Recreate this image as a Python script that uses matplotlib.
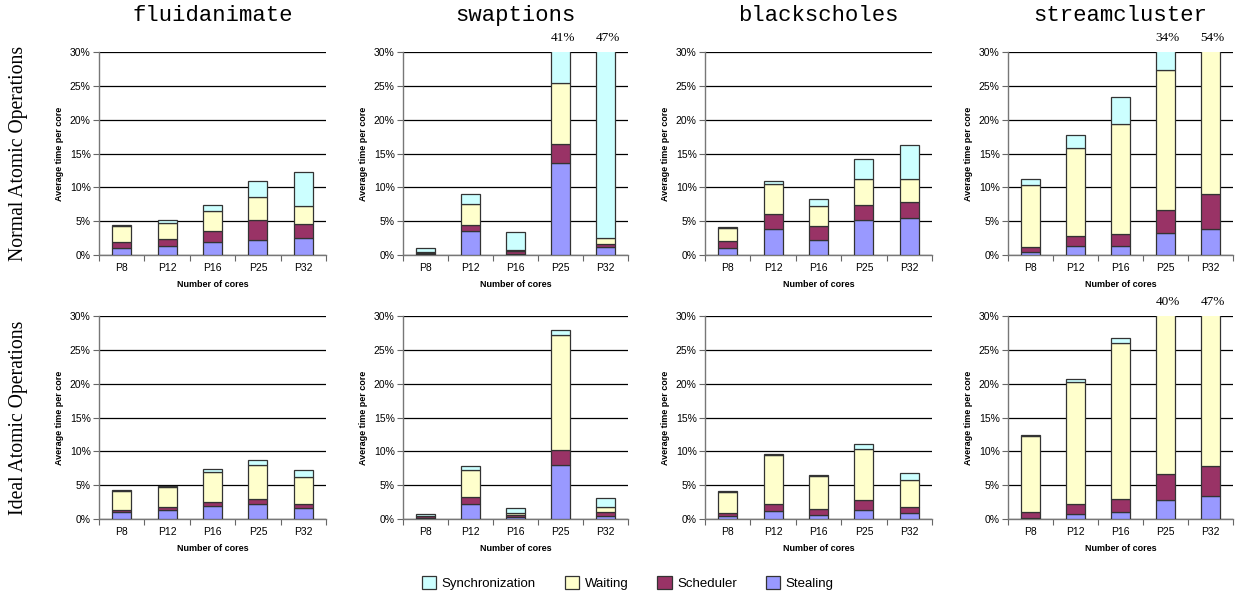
import matplotlib
matplotlib.use("Agg")
import matplotlib.pyplot as plt
from matplotlib.patches import Patch

# Per-core time breakdown (% of run time), bottom to top: stealing, scheduler, waiting, synchronization
cores = ["P8", "P12", "P16", "P25", "P32"]
benchmarks = ["fluidanimate", "swaptions", "blackscholes", "streamcluster"]
rows = ["Normal Atomic Operations", "Ideal Atomic Operations"]
series = ["Stealing", "Scheduler", "Waiting", "Synchronization"]
colors = {"Stealing": "#9999FF", "Scheduler": "#993366",
          "Waiting": "#FFFFCC", "Synchronization": "#CCFFFF"}

# normal atomic operations
fluid_normal = {"Stealing": [1.1, 1.3, 1.9, 2.2, 2.5],
                "Scheduler": [0.85, 1.0, 1.6, 2.9, 2.1],
                "Waiting": [2.3, 2.4, 3.0, 3.45, 2.6],
                "Synchronization": [0.15, 0.4, 0.9, 2.4, 5.0]}
swap_normal = {"Stealing": [0.1, 3.55, 0.1, 13.65, 1.15],
               "Scheduler": [0.25, 0.95, 0.5, 2.75, 0.5],
               "Waiting": [0.05, 3.1, 0.15, 8.95, 0.8],
               "Synchronization": [0.6, 1.35, 2.7, 15.65, 44.55]}
black_normal = {"Stealing": [1.0, 3.8, 2.15, 5.15, 5.45],
                "Scheduler": [1.1, 2.25, 2.1, 2.2, 2.35],
                "Waiting": [1.95, 4.5, 3.05, 3.85, 3.4],
                "Synchronization": [0.15, 0.4, 0.95, 2.95, 5.1]}
stream_normal = {"Stealing": [0.4, 1.3, 1.4, 3.25, 3.8],
                 "Scheduler": [0.75, 1.45, 1.65, 3.45, 5.2],
                 "Waiting": [9.25, 13.1, 16.25, 20.6, 44.5],
                 "Synchronization": [0.9, 1.95, 4.05, 6.7, 0.5]}

# ideal atomic operations
fluid_ideal = {"Stealing": [1.1, 1.3, 1.9, 2.2, 1.65],
               "Scheduler": [0.3, 0.4, 0.6, 0.75, 0.6],
               "Waiting": [2.8, 3.05, 4.4, 5.0, 4.0],
               "Synchronization": [0.15, 0.2, 0.5, 0.7, 1.0]}
swap_ideal = {"Stealing": [0.1, 2.25, 0.25, 7.95, 0.45],
              "Scheduler": [0.35, 0.95, 0.4, 2.25, 0.55],
              "Waiting": [0.05, 4.1, 0.3, 17.05, 0.8],
              "Synchronization": [0.25, 0.5, 0.65, 0.7, 1.3]}
black_ideal = {"Stealing": [0.45, 1.15, 0.6, 1.3, 0.85],
               "Scheduler": [0.5, 1.1, 0.9, 1.45, 0.95],
               "Waiting": [3.1, 7.2, 4.85, 7.65, 3.95],
               "Synchronization": [0.05, 0.15, 0.2, 0.65, 1.05]}
stream_ideal = {"Stealing": [0.2, 0.8, 1.05, 2.75, 3.35],
                "Scheduler": [0.8, 1.4, 1.9, 3.9, 4.55],
                "Waiting": [11.3, 18.05, 23.1, 33.0, 38.8],
                "Synchronization": [0.15, 0.5, 0.65, 0.35, 0.3]}

panels = [[fluid_normal, swap_normal, black_normal, stream_normal],
          [fluid_ideal, swap_ideal, black_ideal, stream_ideal]]

YMAX = 30
sans = ["Liberation Sans", "DejaVu Sans"]
serif = ["Liberation Serif", "DejaVu Serif"]
mono = ["Liberation Mono", "DejaVu Sans Mono"]

fig = plt.figure(figsize=(12.43, 5.95), dpi=100)

lefts = [99, 403, 705, 1008]
widths = [227, 225, 227, 225]
tops = [52, 316]
H = 203

for r in range(2):
    for c in range(4):
        ax = fig.add_axes([lefts[c] / 1243, 1 - (tops[r] + H) / 595,
                           widths[c] / 1243, H / 595])
        data = panels[r][c]
        x = list(range(len(cores)))
        bottom = [0.0] * len(cores)
        for s in series:
            ax.bar(x, data[s], 0.42, bottom=bottom, color=colors[s],
                   edgecolor="#333333", linewidth=0.9, zorder=3)
            bottom = [b + v for b, v in zip(bottom, data[s])]

        # totals that run off the top of the scale
        for i, tot in enumerate(bottom):
            if tot > YMAX:
                ax.text(i + 0.05, 1.07, f"{round(tot)}%",
                        transform=ax.get_xaxis_transform(),
                        ha="center", va="center", fontsize=9.5, family=serif)

        ax.set_xlim(-0.5, len(cores) - 0.5)
        ax.set_ylim(0, YMAX)
        ax.set_yticks(range(0, YMAX + 1, 5))
        ax.set_yticklabels([f"{v}%" for v in range(0, YMAX + 1, 5)],
                           fontsize=7.5, family=sans)
        ax.yaxis.grid(True, color="black", linewidth=0.9, zorder=0)
        ax.tick_params(axis="y", length=4, color="#666666", pad=2)

        # category ticks between bars, labels centred under bars
        ax.set_xticks([i - 0.5 for i in range(len(cores) + 1)])
        ax.set_xticklabels([])
        ax.set_xticks(x, minor=True)
        ax.set_xticklabels(cores, minor=True, fontsize=7.5, family=sans)
        ax.tick_params(axis="x", which="major", length=4, color="#666666")
        ax.tick_params(axis="x", which="minor", length=0, pad=6)

        for side in ["top", "right"]:
            ax.spines[side].set_visible(False)
        for side in ["left", "bottom"]:
            ax.spines[side].set_color("#777777")
            ax.spines[side].set_linewidth(1.0)

        ax.set_xlabel("Number of cores", fontsize=6.5, fontweight="bold",
                      family=sans, labelpad=5)
        ax.set_ylabel("Average time per core", fontsize=6.5, fontweight="bold",
                      family=sans, labelpad=4)

        if r == 0:
            ax.text(0.5, 1.18, benchmarks[c], transform=ax.transAxes,
                    ha="center", va="center", fontsize=16, family=mono)

# row captions down the left edge
for r in range(2):
    yc = 1 - (tops[r] + H / 2) / 595
    fig.text(0.015, yc, rows[r], rotation=90, ha="center", va="center",
             fontsize=14.2, family=serif)

handles = [Patch(facecolor=colors[s], edgecolor="#333333", linewidth=0.9)
           for s in ["Synchronization", "Waiting", "Scheduler", "Stealing"]]
fig.legend(handles, ["Synchronization", "Waiting", "Scheduler", "Stealing"],
           loc="center", bbox_to_anchor=(0.505, 0.02), ncol=4, frameon=False,
           prop={"family": sans, "size": 9.5}, handlelength=1.1,
           handleheight=1.1, handletextpad=0.4, columnspacing=2.2)

fig.savefig("out.png", dpi=100)
